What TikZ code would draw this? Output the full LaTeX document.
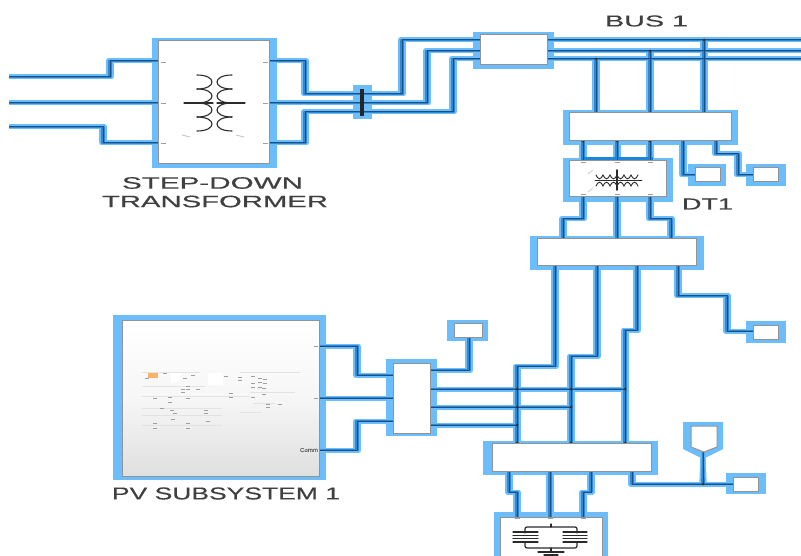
\documentclass[tikz,border=0pt]{standalone}
\usepackage{fontspec}
\usepackage{graphicx}
\setmainfont{Liberation Sans}[FakeBold=0.4]
\usetikzlibrary{fit}
\pgfdeclarelayer{back}
\pgfdeclarelayer{mid}
\pgfdeclarelayer{midtop}
\pgfsetlayers{back,mid,midtop,main}
\definecolor{glowc}{HTML}{6CBDFB}
\definecolor{tonec}{HTML}{3487CC}
\definecolor{corec}{HTML}{174F86}
\definecolor{stripc}{HTML}{1A86DC}
\definecolor{txtc}{HTML}{404040}
\definecolor{symc}{HTML}{2B2B2B}
\tikzset{
  wireglow/.style={draw=glowc,line width=5pt,line join=round},
  wiretone/.style={draw=tonec,line width=2.2pt,line join=round},
  wirecore/.style={draw=corec,line width=1pt,line join=round},
  blk/.style={draw=gray!85,fill=white,line width=1pt,inner sep=0pt,outer sep=0pt},
  pvblk/.style={blk,top color=white,bottom color=gray!25,middle color=gray!7},
  lbl/.style={inner sep=0pt,outer sep=0pt,text=txtc},
  sym/.style={draw=symc,line width=1.1pt,line cap=round},
  tinymark/.style={draw=gray!75,line width=0.9pt},
  faint/.style={draw=gray!22,line width=0.6pt},
}
\newcommand{\wire}[1]{%
  \begin{pgfonlayer}{back}
    \draw[wireglow,xshift=1.2pt] #1;
    \draw[wireglow,xshift=-1.2pt] #1;
  \end{pgfonlayer}
  \begin{pgfonlayer}{mid}
    \draw[wiretone,xshift=.8pt] #1;
    \draw[wiretone,xshift=-.8pt] #1;
  \end{pgfonlayer}
  \begin{pgfonlayer}{midtop}
    \draw[wirecore] #1;
  \end{pgfonlayer}}
\newcommand{\blockbox}[9]{%
  \begin{pgfonlayer}{back}\fill[glowc] (#6,#7) rectangle (#8,#9);\end{pgfonlayer}
  \node[blk,fit={(#2,#3)(#4,#5)}] (#1) {};}
\newcommand{\dotj}[1]{\begin{pgfonlayer}{midtop}\fill[black!80] #1 circle (1.5pt);\end{pgfonlayer}}
\newcommand{\stretched}[3]{\resizebox{#1pt}{#2pt}{#3}}
\begin{document}
\begin{tikzpicture}[x=1pt,y=-1pt]
\useasboundingbox (0,0) rectangle (801,556);
\coordinate (inA) at (9,77);
\coordinate (inB) at (9,103);
\coordinate (inC) at (9,127);
\coordinate (busend) at (801,40);

% blocks
\blockbox{xf}{158}{41}{269}{164}{152}{38}{277}{168}
\blockbox{bus}{480}{35}{547}{65}{473}{32}{554}{69}
\blockbox{mtop}{569}{113}{731}{141}{563}{110}{738}{145}
\blockbox{dt}{569}{161}{666}{197}{563}{158}{673}{202}
\blockbox{mmid}{537}{239}{696}{266}{530}{236}{704}{270}
\blockbox{mlow}{492}{443}{651}{471}{483}{441}{658}{475}
\blockbox{split}{393}{363}{430}{433}{386}{359}{437}{436}
\blockbox{gnd}{500}{517}{602}{575}{494}{512}{608}{575}
\blockbox{sa}{695}{168}{720}{182}{688}{164}{726}{186}
\blockbox{sb}{753}{168}{778}{182}{746}{164}{786}{186}
\blockbox{sc}{753}{325}{778}{339}{746}{321}{786}{343}
\blockbox{sd}{454}{323}{482}{337}{447}{320}{488}{341}
\blockbox{se}{733}{477}{758}{491}{726}{473}{766}{494}
\begin{pgfonlayer}{back}\fill[glowc] (113,315) rectangle (326,480);\end{pgfonlayer}
\node[pvblk,fit={(122,320)(319,476)}] (pv) {};

% coupling bar
\begin{pgfonlayer}{back}\fill[glowc] (353,85) rectangle (372,119);\end{pgfonlayer}
\node[fill=black!85,inner sep=0pt,minimum width=3.5pt,minimum height=27pt] (bar) at (362,103) {};

% pentagon scope block
\begin{pgfonlayer}{back}
\fill[glowc] (683,422) -- (723,422) -- (723,449) -- (703,459) -- (683,449) -- cycle;
\end{pgfonlayer}
\draw[gray!85,fill=white,line width=1pt] (691,426) -- (717,426) -- (717,447) -- (704,452) -- (691,447) -- cycle;
\coordinate (pent) at (703,452);

% wires: transformer
\wire{(inA) -- (110,77) -- (110,61) -- (xf.west |- 0,61)}
\wire{(inB) -- (xf.west |- 0,103)}
\wire{(inC) -- (103,127) -- (103,143) -- (xf.west |- 0,143)}
\wire{(xf.east |- 0,61) -- (305,61) -- (305,94) -- (bar.west |- 0,94)}
\wire{(xf.east |- 0,103) -- (bar.west |- 0,103)}
\wire{(xf.east |- 0,143) -- (305,143) -- (305,112) -- (bar.west |- 0,112)}
\wire{(bar.east |- 0,94) -- (402,94) -- (402,40) -- (bus.west |- 0,40)}
\wire{(bar.east |- 0,103) -- (427,103) -- (427,51) -- (bus.west |- 0,51)}
\wire{(bar.east |- 0,112) -- (453,112) -- (453,59) -- (bus.west |- 0,59)}
% bus
\wire{(bus.east |- 0,40) -- (busend)}
\wire{(bus.east |- 0,51) -- (busend |- 0,51)}
\wire{(bus.east |- 0,59) -- (busend |- 0,59)}
\wire{(596,59) -- (596,0 |- mtop.north)}
\wire{(650,51) -- (650,0 |- mtop.north)}
\wire{(704,40) -- (704,0 |- mtop.north)}
% measurement to transformer
\wire{(583,0 |- mtop.south) -- (583,0 |- dt.north)}
\wire{(617,0 |- mtop.south) -- (617,0 |- dt.north)}
\wire{(650,0 |- mtop.south) -- (650,0 |- dt.north)}
\wire{(683,0 |- mtop.south) -- (683,175) -- (sa.west)}
\wire{(716,0 |- mtop.south) -- (716,154) -- (738,154) -- (738,175) -- (sb.west)}
\wire{(583,0 |- dt.south) -- (583,219) -- (563,219) -- (563,0 |- mmid.north)}
\wire{(617,0 |- dt.south) -- (617,0 |- mmid.north)}
\wire{(650,0 |- dt.south) -- (650,219) -- (671,219) -- (671,0 |- mmid.north)}
% mid to low
\wire{(555,0 |- mmid.south) -- (555,366) -- (517,366) -- (517,0 |- mlow.north)}
\wire{(597,0 |- mmid.south) -- (597,356) -- (571,356) -- (571,0 |- mlow.north)}
\wire{(637,0 |- mmid.south) -- (637,330) -- (625,330) -- (625,0 |- mlow.north)}
\wire{(678,0 |- mmid.south) -- (678,296) -- (727,296) -- (727,331) -- (sc.west |- 0,331)}
% PV
\wire{(pv.east |- 0,346) -- (357,346) -- (357,375) -- (split.west |- 0,375)}
\wire{(pv.east |- 0,398) -- (split.west |- 0,398)}
\wire{(pv.east |- 0,450) -- (357,450) -- (357,421) -- (split.west |- 0,421)}
\wire{(split.east |- 0,370) -- (469,370) -- (469,0 |- sd.south)}
\wire{(split.east |- 0,389) -- (625,389)}
\wire{(split.east |- 0,407) -- (571,407)}
\wire{(split.east |- 0,425) -- (517,425)}
% low to ground transformer
\wire{(509,0 |- mlow.south) -- (509,492) -- (517,492) -- (517,0 |- gnd.north)}
\wire{(550,0 |- mlow.south) -- (550,0 |- gnd.north)}
\wire{(591,0 |- mlow.south) -- (591,492) -- (583,492) -- (583,0 |- gnd.north)}
\wire{(632,0 |- mlow.south) -- (632,484) -- (se.west |- 0,484)}
\wire{(pent) -- (703,484)}

% junction dots
\dotj{(596,59)}\dotj{(650,51)}\dotj{(704,40)}
\dotj{(625,389)}\dotj{(571,407)}\dotj{(517,425)}\dotj{(703,484)}
\dotj{(517,443)}\dotj{(571,443)}\dotj{(625,443)}
\dotj{(563,239)}\dotj{(617,239)}\dotj{(671,239)}
\dotj{(596,113)}\dotj{(650,113)}\dotj{(704,113)}
\dotj{(583,141)}\dotj{(617,141)}\dotj{(650,141)}
\dotj{(517,389)}\dotj{(571,389)}\dotj{(517,407)}

% brighter strip on top of DT1
\begin{pgfonlayer}{mid}
\fill[stripc] (581,157.5) rectangle (653,160.5);
\end{pgfonlayer}

% transformer symbol
\foreach \yy in {75,89,103,117}{
  \draw[sym] (197,\yy) .. controls (217,\yy) and (217,\yy+14) .. (197,\yy+14);
  \draw[sym] (232,\yy) .. controls (212,\yy) and (212,\yy+14) .. (232,\yy+14);
}
\draw[sym] (184,103) -- (213,103);
\draw[sym] (217,103) -- (245,103);
\draw[tinymark,draw=gray!45] (182,135) -- (190,137);
\draw[tinymark,draw=gray!45] (236,135) -- (244,137);
\foreach \yy in {62,103,143}{
  \draw[tinymark] (161,\yy) -- (166,\yy);
  \draw[tinymark] (263,\yy) -- (268,\yy);
}

% DT1 symbol
\foreach \xx in {596,603,610,617,624,631}{
  \draw[sym,line width=.9pt] (\xx,175) .. controls (\xx+2,180) and (\xx+5,180) .. (\xx+7,175);
  \draw[sym,line width=.9pt] (\xx,186) .. controls (\xx+2,181) and (\xx+5,181) .. (\xx+7,186);
}
\draw[sym,line width=1.6pt] (617,170) -- (617,190);
\draw[sym,line width=.9pt] (595,180.5) -- (642,180.5);
\draw[tinymark,draw=gray!35] (588,174) -- (593,170);
\draw[tinymark,draw=gray!35] (588,192) -- (593,188);
\foreach \xx in {583,617,650}{
  \draw[tinymark,line width=1pt] (\xx-2.5,163) -- (\xx+2.5,163);
  \draw[tinymark,line width=1pt] (\xx-2.5,195) -- (\xx+2.5,195);
}

% grounding transformer symbol
\draw[sym,line width=1.2pt,rounded corners=2pt] (525,533) -- (525,527) -- (577,527) -- (577,533);
\draw[sym,line width=1.2pt,rounded corners=2pt] (525,542) -- (525,548) -- (577,548) -- (577,542);
\foreach \yy in {532,535.3,538.6,542}{
  \draw[sym,line width=1.2pt] (513,\yy) -- (538,\yy);
  \draw[sym,line width=1.2pt] (563,\yy) -- (587,\yy);
}
\draw[sym,line width=1.2pt] (551,524) -- (551,527);
\draw[sym,line width=1.2pt] (551,548) -- (551,551);
\draw[sym,line width=1.2pt] (538,552) -- (564,552);
\draw[sym,line width=1.2pt] (544,555) -- (558,555);
\foreach \xx in {517,550,583}{\draw[tinymark] (\xx-2.5,518.5) -- (\xx+2.5,518.5);}

% PV subsystem interior
\fill[white] (171,372) rectangle (180,382);
\fill[white] (208,373) rectangle (223,385);
\fill[orange!60] (148,373) rectangle (158,378);
\foreach \xa/\ya/\xb/\yb in {
 142/372/200/372, 142/386/205/386, 142/396/250/396, 142/408/222/408,
 142/415/222/415, 142/425/222/425, 240/372/300/372, 250/392/295/392,
 253/403/275/403, 240/412/262/412}{
  \draw[faint] (\xa,\ya) -- (\xb,\yb);
}
\foreach \xx/\yy in {147/378,165/373,193/375,185/378,226/376,240/377,240/380,
 253/376,260/378,265/379,260/382,265/383,253/383,253/387,260/387,264/388,
 188/386,183/389,188/389,198/389,183/392,231/393,231/397,264/394,253/397,
 155/398,170/397,170/402,188/398,162/408,172/410,175/413,206/410,206/413,
 173/419,208/421,155/423,188/423,155/428,188/428,268/404,268/407,280/404}{
  \draw[draw=gray!75,line width=.9pt] (\xx-2,\yy) -- (\xx+2,\yy);
}
\draw[draw=gray!75,line width=.9pt] (314,346) -- (318,346);
\draw[draw=gray!75,line width=.9pt] (314,398) -- (318,398);
\node[lbl,text=gray!80!black] (commlbl) at (309,450) {\stretched{18}{4}{Comm}};

% labels
\node[lbl] (lstep) at (212.5,183) {\stretched{181}{11.5}{STEP-DOWN}};
\node[lbl] (ltrans) at (215,201.5) {\stretched{226}{11.5}{TRANSFORMER}};
\node[lbl] (lbus) at (646.5,21) {\stretched{83}{11}{BUS 1}};
\node[lbl] (ldt) at (707.5,204) {\stretched{51}{11}{DT1}};
\node[lbl] (lpv) at (226,493.5) {\stretched{228}{12}{PV SUBSYSTEM 1}};
\end{tikzpicture}
\end{document}
